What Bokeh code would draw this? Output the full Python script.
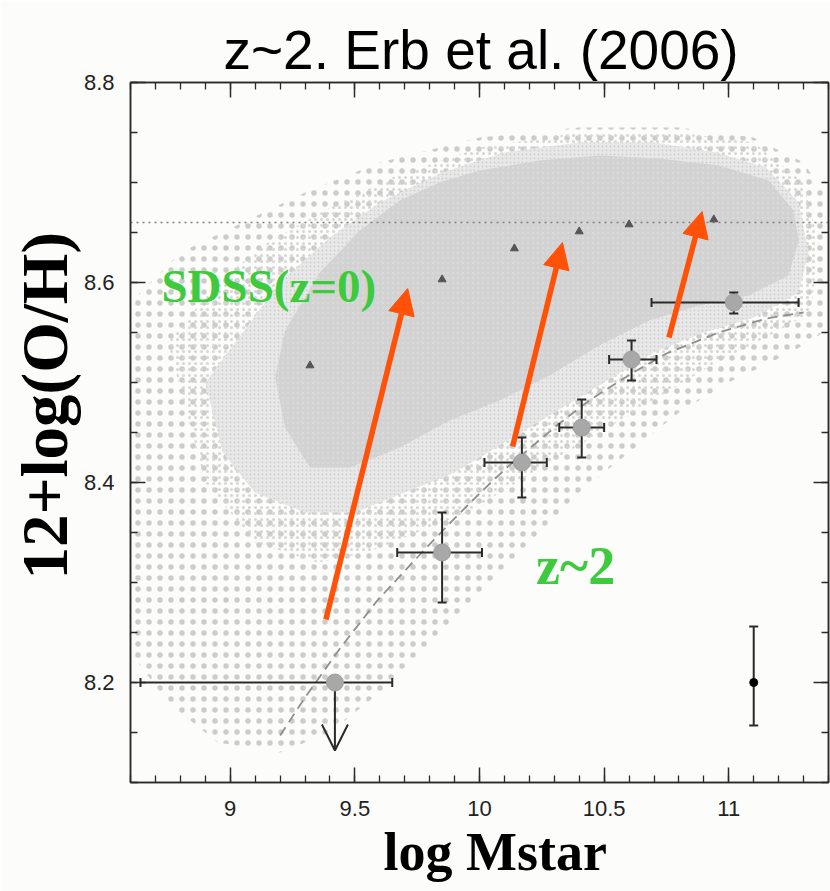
from bokeh.plotting import figure
from bokeh.models import (ColumnDataSource, Whisker, TeeHead, Arrow, NormalHead, OpenHead,
                          Label, FixedTicker, LinearAxis, Title)
from bokeh.embed import file_html
from bokeh.resources import INLINE

# ---- Erb et al. (2006) z~2 stacked bins ----
erb_mass = [9.42, 9.85, 10.17, 10.41, 10.61, 11.02]
erb_oh = [8.20, 8.33, 8.42, 8.455, 8.523, 8.58]
erb_mass_lo = [8.64, 9.67, 10.02, 10.32, 10.52, 10.69]
erb_mass_hi = [9.65, 10.01, 10.27, 10.50, 10.71, 11.28]
# vertical errors (first bin is an upper limit)
erb_oh_lo = [8.28, 8.385, 8.425, 8.502, 8.569]
erb_oh_hi = [8.37, 8.445, 8.483, 8.542, 8.590]
limit_mass = [9.42]
limit_top = [8.20]
limit_bottom = [8.132]

# typical uncertainty
typ_mass = [11.10]
typ_oh = [8.20]
typ_lo = [8.157]
typ_hi = [8.256]

# SDSS running medians
sdss_med_mass = [9.32, 9.85, 10.14, 10.40, 10.60, 10.94]
sdss_med_oh = [8.517, 8.603, 8.634, 8.651, 8.658, 8.663]

# solar oxygen abundance
solar_oh = 8.66

# mass-metallicity fit at z~2
fit_mass = [9.20, 9.30, 9.44, 9.59, 9.75, 9.88, 10.00, 10.11, 10.32, 10.44,
            10.61, 10.75, 10.96, 11.15, 11.30]
fit_oh = [8.147, 8.185, 8.234, 8.282, 8.325, 8.359, 8.389, 8.415, 8.459, 8.482,
          8.509, 8.529, 8.550, 8.564, 8.570]

# SDSS galaxy cloud outlines, from the sparse outskirts to the dense core
halo_mass = [8.60, 8.80, 9.05, 9.30, 9.60, 10.00, 10.40, 10.80, 11.10, 11.30, 11.38,
             11.38, 11.25, 11.00, 10.80, 10.60, 10.40, 10.20, 10.00, 9.80, 9.60,
             9.40, 9.20, 8.95, 8.75, 8.60]
halo_oh = [8.58, 8.63, 8.66, 8.69, 8.72, 8.745, 8.755, 8.755, 8.745, 8.72, 8.69,
           8.55, 8.53, 8.50, 8.47, 8.43, 8.39, 8.34, 8.29, 8.24, 8.19,
           8.15, 8.13, 8.14, 8.18, 8.23]
rim_mass = [8.75, 8.95, 9.15, 9.40, 9.65, 10.00, 10.40, 10.80, 11.10, 11.30, 11.36,
            11.33, 11.15, 10.95, 10.75, 10.55, 10.35, 10.15, 9.95, 9.75, 9.55,
            9.35, 9.10, 8.90]
rim_oh = [8.54, 8.60, 8.64, 8.675, 8.705, 8.735, 8.75, 8.75, 8.74, 8.70, 8.64,
          8.57, 8.545, 8.52, 8.49, 8.46, 8.43, 8.40, 8.37, 8.35, 8.33,
          8.32, 8.34, 8.40]
mid_mass = [8.90, 9.05, 9.20, 9.40, 9.60, 9.85, 10.10, 10.40, 10.70, 10.95, 11.15,
            11.28, 11.32, 11.28, 11.10, 10.90, 10.70, 10.50, 10.30, 10.10, 9.90,
            9.70, 9.50, 9.30, 9.10, 8.97]
mid_oh = [8.50, 8.55, 8.60, 8.645, 8.68, 8.71, 8.73, 8.74, 8.74, 8.73, 8.715,
          8.68, 8.63, 8.59, 8.565, 8.55, 8.53, 8.50, 8.47, 8.44, 8.41,
          8.39, 8.37, 8.37, 8.39, 8.43]
core_mass = [9.22, 9.36, 9.52, 9.68, 9.84, 10.00, 10.24, 10.48, 10.72, 10.96, 11.16,
             11.26, 11.28, 11.24, 11.08, 10.88, 10.68, 10.48, 10.28, 10.08, 9.88,
             9.68, 9.48, 9.32, 9.22, 9.18]
core_oh = [8.552, 8.610, 8.652, 8.682, 8.700, 8.712, 8.722, 8.727, 8.724, 8.717, 8.702,
           8.672, 8.642, 8.607, 8.587, 8.577, 8.562, 8.537, 8.507, 8.482, 8.462,
           8.435, 8.415, 8.415, 8.455, 8.505]

# evolution arrows (z~2 -> z=0)
evo_mass_start = [9.384, 10.133, 10.760]
evo_oh_start = [8.263, 8.436, 8.545]
evo_mass_end = [9.712, 10.333, 10.893]
evo_oh_end = [8.594, 8.640, 8.671]

# axis ticks
x_major = [9, 9.5, 10, 10.5, 11]
x_minor = [8.6, 8.7, 8.8, 8.9, 9.0, 9.1, 9.2, 9.3, 9.4, 9.5, 9.6, 9.7, 9.8, 9.9, 10.0,
           10.1, 10.2, 10.3, 10.4, 10.5, 10.6, 10.7, 10.8, 10.9, 11.0, 11.1, 11.2, 11.3, 11.4]
y_major = [8.2, 8.4, 8.6, 8.8]
y_minor = [8.10, 8.15, 8.20, 8.25, 8.30, 8.35, 8.40, 8.45, 8.50, 8.55, 8.60, 8.65,
           8.70, 8.75, 8.80]

BG = "#fcfcfa"
AX = "#2a2a2a"
ORANGE = "#ff5208"
GREEN = "#3dca3d"

p = figure(width=830, height=891, x_range=(8.6, 11.4), y_range=(8.1, 8.8),
           output_backend="svg", toolbar_location=None,
           min_border_left=130, min_border_right=2, min_border_top=82, min_border_bottom=109,
           background_fill_color=BG, border_fill_color=BG)
p.grid.visible = False
p.outline_line_color = AX
p.outline_line_width = 1.5

# title
p.title.text = "z~2. Erb et al. (2006)"
p.title.align = "left"
p.title.offset = 93
p.title.vertical_align = "top"
p.title.text_font = "Liberation Sans"
p.title.text_font_style = "normal"
p.title.text_font_size = "55px"
p.title.text_color = "black"
p.title.standoff = 0


def style_axis(ax, labels=True):
    ax.axis_line_color = AX
    ax.axis_line_width = 1.5
    ax.major_tick_line_color = AX
    ax.minor_tick_line_color = AX
    ax.major_tick_line_width = 1.5
    ax.minor_tick_line_width = 1.3
    ax.major_tick_in = 15
    ax.major_tick_out = 0
    ax.minor_tick_in = 7
    ax.minor_tick_out = 0
    ax.major_label_text_font = "Liberation Sans"
    ax.major_label_text_color = "#222222"
    ax.major_label_text_font_size = "22px"
    if not labels:
        ax.major_label_text_color = None
        ax.major_label_text_font_size = "1px"
        ax.major_label_standoff = 0


xt = FixedTicker(ticks=x_major, minor_ticks=x_minor)
yt = FixedTicker(ticks=y_major, minor_ticks=y_minor)
p.xaxis.ticker = xt
p.yaxis.ticker = yt
style_axis(p.xaxis[0])
style_axis(p.yaxis[0])
p.xaxis.major_label_standoff = 18
p.yaxis.major_label_standoff = 16
p.xaxis.major_label_overrides = {9: "9", 10: "10", 11: "11"}

top_ax = LinearAxis(ticker=xt)
right_ax = LinearAxis(ticker=yt)
style_axis(top_ax, labels=False)
style_axis(right_ax, labels=False)
p.add_layout(top_ax, "above")
p.add_layout(right_ax, "right")

# axis titles
p.add_layout(Title(text="log Mstar", align="left", offset=253, standoff=3,
                   text_font="Liberation Serif", text_font_style="bold",
                   text_font_size="54px", text_color="black"), "below")
p.add_layout(Title(text="12+log(O/H)", align="left", offset=203, standoff=0,
                   text_font="Liberation Serif", text_font_style="bold",
                   text_font_size="65px", text_color="black"), "left")

# SDSS cloud
p.patch(halo_mass, halo_oh, fill_alpha=0, line_color=None,
        hatch_pattern="dot", hatch_color="#cccccc", hatch_scale=11, hatch_weight=0.6)
p.patch(rim_mass, rim_oh, fill_alpha=0, line_color=None,
        hatch_pattern="dot", hatch_color="#d6d6d6", hatch_scale=6, hatch_weight=0.7)
p.patch(mid_mass, mid_oh, fill_color="#e8e8e8", line_color=None,
        hatch_pattern="dot", hatch_color="#cfcfcf", hatch_scale=4, hatch_weight=1.2)
p.patch(core_mass, core_oh, fill_color="#d2d2d2", line_color=None,
        hatch_pattern="dot", hatch_color="#dadada", hatch_scale=5, hatch_weight=1.0)

# solar value
p.line([8.6, 11.4], [solar_oh, solar_oh], line_color="#808080", line_width=1.5,
       line_dash="2 4")

# SDSS medians
p.scatter(sdss_med_mass, sdss_med_oh, marker="triangle", size=8,
          fill_color="#555555", line_color="#555555")

# z~2 fit
p.line(fit_mass, fit_oh, line_color="#8f8f8f", line_width=1.8, line_dash="10 6")


def whisker(src, base, dim):
    return Whisker(source=src, base=base, lower="lo", upper="hi", dimension=dim,
                   level="annotation", line_color=AX, line_width=2,
                   lower_head=TeeHead(size=9, line_color=AX, line_width=2),
                   upper_head=TeeHead(size=9, line_color=AX, line_width=2))


# error bars
p.add_layout(whisker(ColumnDataSource(dict(y=erb_oh, lo=erb_mass_lo, hi=erb_mass_hi)),
                     "y", "width"))
p.add_layout(whisker(ColumnDataSource(dict(x=erb_mass[1:], lo=erb_oh_lo, hi=erb_oh_hi)),
                     "x", "height"))
p.add_layout(whisker(ColumnDataSource(dict(x=typ_mass, lo=typ_lo, hi=typ_hi)),
                     "x", "height"))

# upper limit on the lowest-mass bin
for xm, yt0, yb in zip(limit_mass, limit_top, limit_bottom):
    p.add_layout(Arrow(x_start=xm, y_start=yt0, x_end=xm, y_end=yb,
                       line_color=AX, line_width=2,
                       end=OpenHead(size=26, line_color=AX, line_width=2)))

pts = p.scatter(erb_mass, erb_oh, size=17, fill_color="#a8a8a8", line_color="#a0a0a0")
pts.level = "overlay"
dot = p.scatter(typ_mass, typ_oh, size=8, fill_color="black", line_color="black")
dot.level = "overlay"

# evolution arrows
for xs, ys, xe, ye in zip(evo_mass_start, evo_oh_start, evo_mass_end, evo_oh_end):
    p.add_layout(Arrow(x_start=xs, y_start=ys, x_end=xe, y_end=ye,
                       line_color=ORANGE, line_width=5.5,
                       end=NormalHead(size=26, fill_color=ORANGE, line_color=ORANGE,
                                      line_width=1)))

# in-plot labels
p.add_layout(Label(x=8.724, y=8.597, text="SDSS(z=0)", text_font="Liberation Serif",
                   text_font_style="bold", text_font_size="47px", text_color=GREEN,
                   text_align="left", text_baseline="alphabetic"))
p.add_layout(Label(x=10.227, y=8.317, text="z~2", text_font="Liberation Serif",
                   text_font_style="bold", text_font_size="54px", text_color=GREEN,
                   text_align="left", text_baseline="alphabetic"))

open("out.html", "w").write(file_html(p, INLINE))
